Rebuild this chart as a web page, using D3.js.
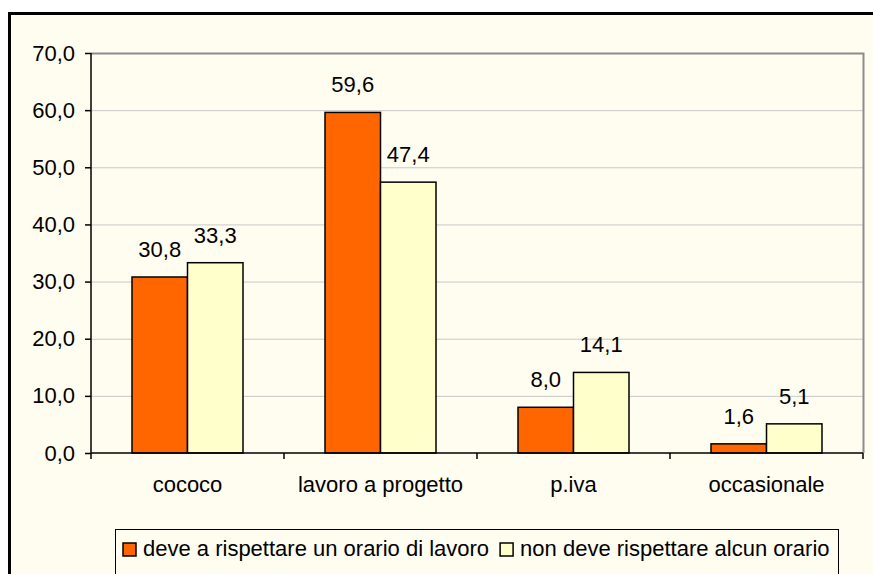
<!DOCTYPE html>
<html>
<head>
<meta charset="utf-8">
<script src="https://cdn.jsdelivr.net/npm/d3@7"></script>
<style>
  body { margin: 0; background: #ffffff; }
  text { font-family: "Liberation Sans", Arial, sans-serif; fill: #000; }
</style>
</head>
<body>
<div id="chart"></div>
<script>
var categories = ['cococo', 'lavoro a progetto', 'p.iva', 'occasionale'];
var seriesNames = ['deve a rispettare un orario di lavoro', 'non deve rispettare alcun orario'];
var orarioSi = [30.8, 59.6, 8.0, 1.6];
var orarioNo = [33.3, 47.4, 14.1, 5.1];
var yTicks = [0, 10, 20, 30, 40, 50, 60, 70];
var colors = ['#ff6600', '#ffffcc'];

var W = 873, H = 574, fs = '22px';
var margin = { top: 53, right: 10, bottom: 121, left: 91 };
var width = 863 - margin.left, height = 453 - margin.top;

function fmt(d) { return d.toFixed(1).replace('.', ','); }

var svg = d3.select('#chart').append('svg')
        .attr('width', W).attr('height', H);

// chart area background + outer border
svg.append('rect').attr('x', 9).attr('y', 13).attr('width', W).attr('height', H)
        .attr('fill', '#fffcf0');
svg.append('line').attr('x1', 8).attr('x2', W).attr('y1', 13.5).attr('y2', 13.5)
        .attr('stroke', '#000').attr('stroke-width', 3);
svg.append('line').attr('x1', 9.5).attr('x2', 9.5).attr('y1', 12).attr('y2', H)
        .attr('stroke', '#000').attr('stroke-width', 3);

var g = svg.append('g').attr('transform', 'translate(' + margin.left + ',' + margin.top + ')');

var x0 = d3.scaleBand().domain(categories).range([0, width]);
var x1 = d3.scaleBand().domain([0, 1]).range([41, x0.bandwidth() - 41]);
var y = d3.scaleLinear().domain([0, 70]).range([height, 0]);

// gridlines
g.append('g').selectAll('line').data(yTicks.slice(1, -1)).enter().append('line')
        .attr('x1', 0).attr('x2', width)
        .attr('y1', function (d) { return y(d) + 0.5; }).attr('y2', function (d) { return y(d) + 0.5; })
        .attr('stroke', '#c8c8c8').attr('stroke-width', 1);

// plot frame top/right
g.append('path')
        .attr('d', 'M0,0.5H' + (width + 0.5) + 'V' + height)
        .attr('fill', 'none').attr('stroke', '#8c8c8c').attr('stroke-width', 2);

// bars
var data = categories.map(function (c, i) { return [orarioSi[i], orarioNo[i]]; });
var groups = g.selectAll('.grp').data(data).enter().append('g')
        .attr('transform', function (d, i) { return 'translate(' + x0(categories[i]) + ',0)'; });
groups.selectAll('rect').data(function (d) { return d; }).enter().append('rect')
        .attr('x', function (d, j) { return x1(j); })
        .attr('y', function (d) { return y(d); })
        .attr('width', x1.bandwidth())
        .attr('height', function (d) { return height - y(d); })
        .attr('fill', function (d, j) { return colors[j]; })
        .attr('stroke', '#000').attr('stroke-width', 1.5);
groups.selectAll('text').data(function (d) { return d; }).enter().append('text')
        .attr('x', function (d, j) { return x1(j) + x1.bandwidth() / 2; })
        .attr('y', function (d) { return y(d) - 20; })
        .attr('text-anchor', 'middle')
        .style('font-size', fs)
        .text(fmt);

// y axis
var yAxis = g.append('g')
        .call(d3.axisLeft(y).tickValues(yTicks).tickSize(6).tickPadding(10).tickFormat(fmt));
yAxis.selectAll('text').style('font-size', fs);
yAxis.selectAll('line').attr('stroke-width', 1.5);
yAxis.select('.domain').attr('stroke-width', 1.5).attr('d', 'M0,0V' + height);

// x axis
var xAxis = g.append('g').attr('transform', 'translate(0,' + height + ')')
        .call(d3.axisBottom(x0).tickSize(0).tickPadding(23));
xAxis.selectAll('text').style('font-size', fs);
xAxis.select('.domain').attr('stroke-width', 1.5).attr('d', 'M0,0H' + width);
xAxis.append('g').selectAll('line').data(d3.range(categories.length + 1)).enter().append('line')
        .attr('x1', function (d) { return d * x0.step(); }).attr('x2', function (d) { return d * x0.step(); })
        .attr('y1', 0).attr('y2', 6).attr('stroke', '#000').attr('stroke-width', 1.5);

// legend
var lg = svg.append('g').attr('transform', 'translate(115,529)');
lg.append('rect').attr('x', 0.5).attr('y', 0.5).attr('width', 723).attr('height', 46)
        .attr('fill', '#fffcf0').attr('stroke', '#000').attr('stroke-width', 1);
var lx = 8;
seriesNames.forEach(function (n, i) {
        lg.append('rect').attr('x', lx).attr('y', 14).attr('width', 13).attr('height', 13)
                .attr('fill', colors[i]).attr('stroke', '#000').attr('stroke-width', 1.5);
        var t = lg.append('text').attr('x', lx + 20).attr('y', 27)
                .style('font-size', fs).text(n);
        lx = lx + 20 + t.node().getComputedTextLength() + 11;
});
</script>
</body>
</html>
